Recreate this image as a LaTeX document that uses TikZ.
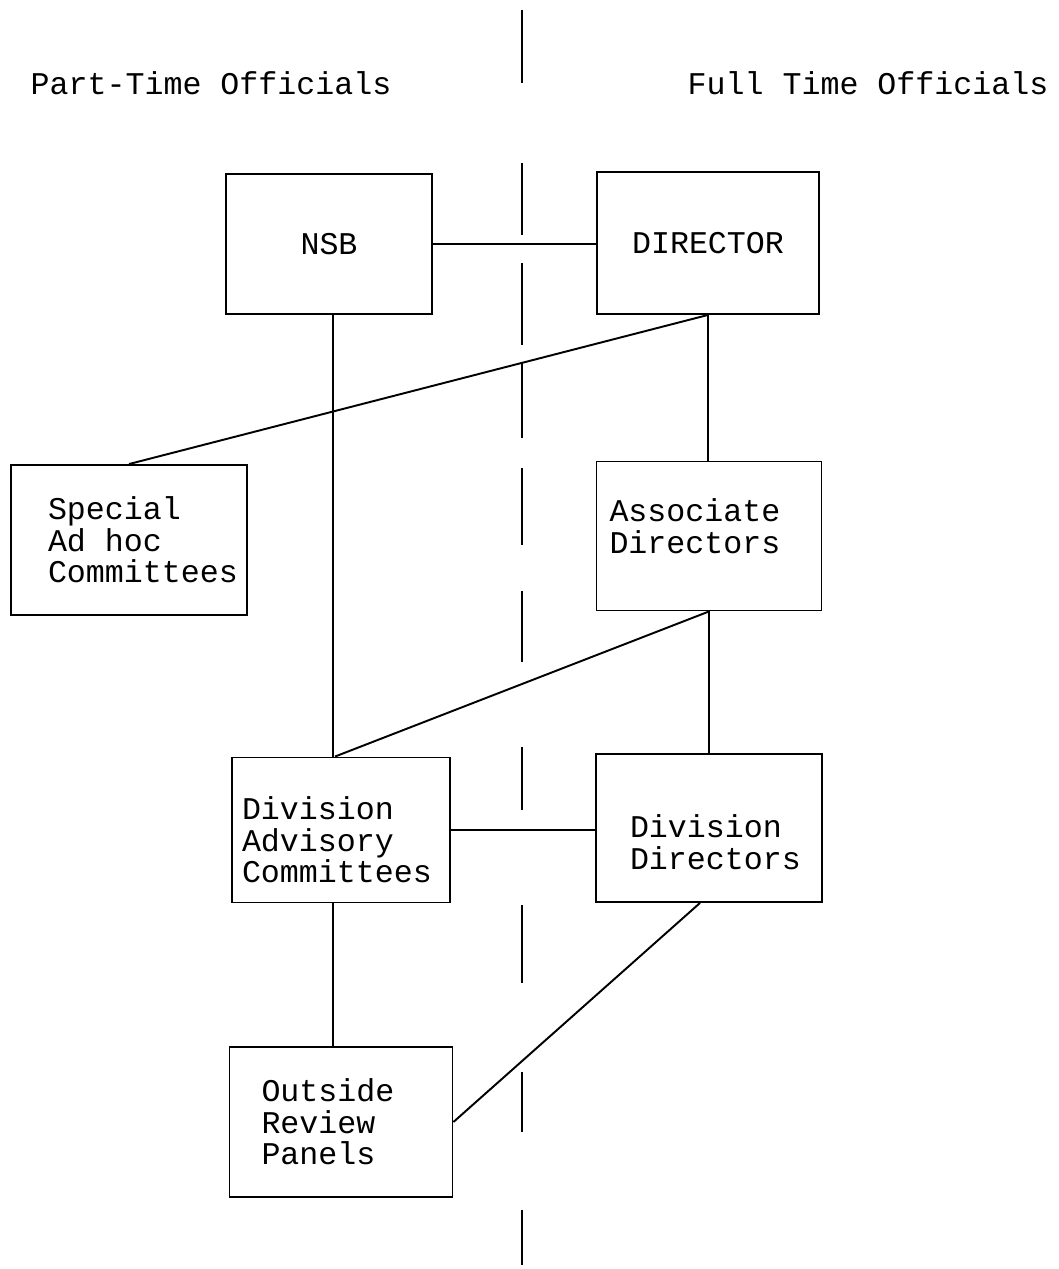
\documentclass[tikz,border=0pt]{standalone}
\usepackage{fontspec}
\setmonofont{Liberation Mono}
\usepackage{tikz}
\usetikzlibrary{positioning}

\begin{document}
\begin{tikzpicture}[
        x=0.02cm, y=-0.02cm,
        every node/.style={font=\ttfamily\fontsize{18}{18}\selectfont},
        unit/.style={draw, rectangle, line width=1.1pt, align=left},
        link/.style={line width=1.1pt}
      ]
      \useasboundingbox (0,0) rectangle (1059,1269);

      % Headings
      \node (partTime) at (211, 83) {Part-Time Officials};
      \node (fullTime) at (868, 83) {Full Time Officials};

      % Divider between the two sides
      \foreach \ya/\yb in {10/83, 163/235, 263/345, 363/438, 468/545, 591/662, 747/810, 905/983, 1072/1132, 1210/1265}
        \draw[line width=1.1pt] (522, \ya) -- (522, \yb);

      % Part-time side
      \node[unit, align=center, minimum width=4.12cm, minimum height=2.8cm] (nsb) at (329, 244) {NSB};
      \node[unit, text width=3.24cm, inner xsep=0.74cm, minimum height=3cm] (special) at (129, 540) {Special\\Ad\hspace{0.6em}hoc\\Committees};
      \node[unit, text width=3.96cm, inner xsep=0.2cm, minimum height=2.9cm] (divAdvisory) at (341, 830) {\rule{0pt}{0.86cm}Division\\Advisory\\Committees};
      \node[unit, text width=3.18cm, inner xsep=0.64cm, minimum height=3cm] (reviewPanels) at (341, 1122) {Outside\\Review\\Panels};

      % Full-time side
      \node[unit, align=center, minimum width=4.44cm, minimum height=2.84cm] (director) at (708, 243) {DIRECTOR};
      \node[unit, text width=3.98cm, inner xsep=0.26cm, minimum height=2.98cm] (assocDir) at (709, 536) {Associate\\Directors\rule[-0.4cm]{0pt}{0pt}};
      \node[unit, text width=3.16cm, inner xsep=0.68cm, minimum height=2.96cm] (divDirectors) at (709, 828) {\rule{0pt}{1.02cm}Division\\Directors};

      % Lines
      \draw[link] (nsb.east) -- (nsb.east -| director.west);
      \draw[link] ([xshift=0.08cm]nsb.south) -- ([xshift=0.08cm]nsb.south |- divAdvisory.north);
      \draw[link] (director.south) -- (special.north);
      \draw[link] (director.south) -- (director.south |- assocDir.north);
      \draw[link] (assocDir.south) -- ([xshift=-0.12cm]divAdvisory.north);
      \draw[link] (assocDir.south) -- (assocDir.south |- divDirectors.north);
      \draw[link] (divAdvisory.east) -- (divAdvisory.east -| divDirectors.west);
      \draw[link] ([xshift=-0.16cm]divAdvisory.south) -- ([xshift=-0.16cm]divAdvisory.south |- reviewPanels.north);
      \draw[link] ([xshift=-0.18cm]divDirectors.south) -- (reviewPanels.east);
  \end{tikzpicture}
\end{document}
